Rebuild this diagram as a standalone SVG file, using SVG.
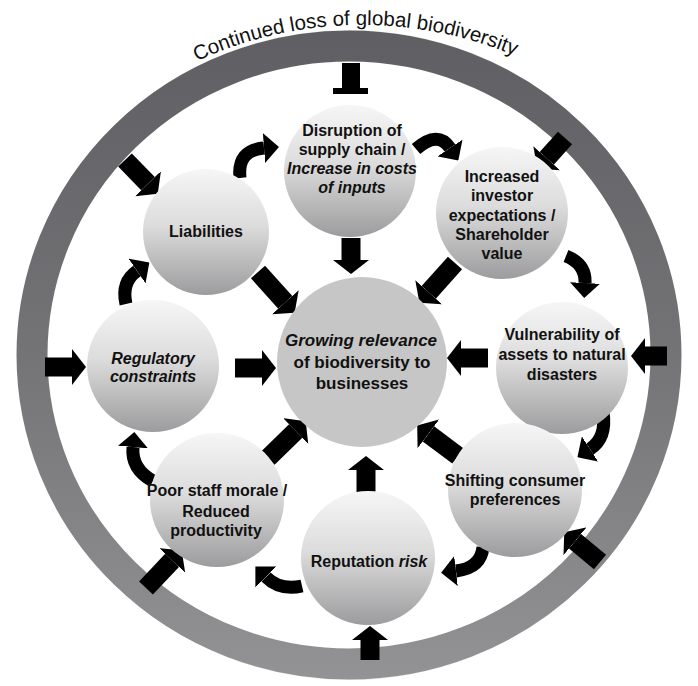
<svg xmlns="http://www.w3.org/2000/svg" xmlns:xlink="http://www.w3.org/1999/xlink" width="698" height="686" viewBox="0 0 698 686">
<style>
.node{fill:url(#ng);}
.center{fill:#c6c6c6;}
.t{font-family:"Liberation Sans",Arial,sans-serif;font-weight:bold;font-size:16px;fill:#111;text-anchor:middle;}
.it{font-style:italic;}
.sh{stroke:#000;stroke-width:19;fill:none;marker-end:url(#hd);}
.cv{stroke:#000;stroke-width:13;fill:none;marker-end:url(#hc);}
</style>
<defs>
<linearGradient id="ng" x1="0" y1="0" x2="0" y2="1">
<stop offset="0" stop-color="#f6f6f6"/>
<stop offset="0.45" stop-color="#dcdcdc"/>
<stop offset="1" stop-color="#9c9c9e"/>
</linearGradient>
<linearGradient id="rg" gradientUnits="userSpaceOnUse" x1="0" y1="30" x2="0" y2="680">
<stop offset="0" stop-color="#5f5f63"/>
<stop offset="0.5" stop-color="#747477"/>
<stop offset="1" stop-color="#939395"/>
</linearGradient>
<marker id="hd" markerUnits="userSpaceOnUse" markerWidth="14" markerHeight="36" refX="0" refY="18" orient="auto" viewBox="0 0 14 36">
<path d="M0,0 L14,18 L0,36 Z" fill="#000"/>
</marker>
<marker id="hc" markerUnits="userSpaceOnUse" markerWidth="15" markerHeight="30" refX="0" refY="15" orient="auto" viewBox="0 0 15 30">
<path d="M0,0 L15,15 L0,30 Z" fill="#000"/>
</marker>
<path id="tp" d="M16.5,228.5 A395,395 0 0 1 700.6,216.6"/>
</defs>
<rect width="698" height="686" fill="#fff"/>
<g id="ring">
<ellipse cx="349" cy="355" rx="328" ry="321" fill="none" stroke="#ececec" stroke-width="8"/>
<ellipse cx="349" cy="355" rx="317" ry="309" fill="none" stroke="url(#rg)" stroke-width="31"/>
<text font-family="Liberation Sans,Arial,sans-serif" font-size="20.5" fill="#111" text-anchor="middle"><textPath href="#tp" xlink:href="#tp" startOffset="50%">Continued loss of global biodiversity</textPath></text>
</g>
<g id="connectors">
<polygon points="342,63 360,63 360,88 368,88 368,94 333,94 333,88 342,88" fill="#000"/>
<line class="sh" x1="565" y1="138" x2="546.7" y2="158.3"/>
<line class="sh" x1="125" y1="160" x2="148" y2="183.7"/>
<line class="sh" x1="45" y1="367" x2="72" y2="367"/>
<line class="sh" x1="667" y1="356" x2="645" y2="356"/>
<line class="sh" x1="600" y1="562" x2="575" y2="541.3"/>
<line class="sh" x1="370" y1="660" x2="370" y2="640"/>
<line class="sh" x1="146" y1="588" x2="172.1" y2="560.4"/>
<line class="sh" x1="351" y1="238" x2="351" y2="260"/>
<line class="sh" x1="455" y1="263" x2="428.7" y2="292.3"/>
<line class="sh" x1="258" y1="272" x2="285.3" y2="302.3"/>
<line class="sh" x1="235" y1="368" x2="262" y2="368"/>
<line class="sh" x1="488" y1="358" x2="461" y2="358"/>
<line class="sh" x1="458" y1="456" x2="428.4" y2="433.8"/>
<line class="sh" x1="366" y1="492" x2="366" y2="470"/>
<line class="sh" x1="268" y1="458" x2="295.7" y2="431"/>
<path class="cv" d="M240,178 Q237,150 264,148"/>
<path class="cv" d="M416,149 Q438,130 450,148"/>
<path class="cv" d="M566,256 Q586,264 585,283"/>
<path class="cv" d="M603,412 Q607,438 590,449"/>
<path class="cv" d="M483,547 Q481,568 456,571"/>
<path class="cv" d="M302,586 Q280,591 266,577"/>
<path class="cv" d="M153,481 Q131,469 133,447"/>
<path class="cv" d="M126,304 Q121,282 137,271"/>
</g>
<g id="n-center">
<circle class="center" cx="362" cy="362" r="85"/>
<text class="t" style="font-size:17px"><tspan class="it" x="361" y="346">Growing relevance</tspan><tspan x="362" y="367.5">of biodiversity to</tspan><tspan x="362" y="388.5">businesses</tspan></text>
</g>
<g id="n-disruption">
<circle class="node" cx="350" cy="171" r="66"/>
<text class="t"><tspan x="352" y="136">Disruption of</tspan><tspan x="352" y="154.5">supply chain /</tspan><tspan class="it" x="352" y="174">Increase in costs</tspan><tspan class="it" x="352" y="192.5">of inputs</tspan></text>
</g>
<g id="n-investor">
<circle class="node" cx="502" cy="213" r="66"/>
<text class="t"><tspan x="502" y="181.7">Increased</tspan><tspan x="502" y="201.3">investor</tspan><tspan x="502" y="220.7">expectations /</tspan><tspan x="502" y="240">Shareholder</tspan><tspan x="502" y="259.3">value</tspan></text>
</g>
<g id="n-vulnerability">
<circle class="node" cx="562" cy="368" r="66"/>
<text class="t"><tspan x="562" y="340">Vulnerability of</tspan><tspan x="562" y="360">assets to natural</tspan><tspan x="562" y="379.5">disasters</tspan></text>
</g>
<g id="n-consumer">
<circle class="node" cx="515" cy="490" r="67"/>
<text class="t"><tspan x="515" y="486">Shifting consumer</tspan><tspan x="515" y="505">preferences</tspan></text>
</g>
<g id="n-reputation">
<circle class="node" cx="368" cy="558" r="67"/>
<text class="t" x="369" y="566.7">Reputation <tspan class="it">risk</tspan></text>
</g>
<g id="n-staff">
<circle class="node" cx="217" cy="500" r="67"/>
<text class="t"><tspan x="217" y="496">Poor staff morale /</tspan><tspan x="216" y="516.5">Reduced</tspan><tspan x="216" y="535.5">productivity</tspan></text>
</g>
<g id="n-regulatory">
<circle class="node" cx="153" cy="366" r="66"/>
<text class="t it"><tspan x="153" y="364">Regulatory</tspan><tspan x="153" y="382.3">constraints</tspan></text>
</g>
<g id="n-liabilities">
<circle class="node" cx="206" cy="232" r="63"/>
<text class="t" x="206" y="237.3">Liabilities</text>
</g>
</svg>
